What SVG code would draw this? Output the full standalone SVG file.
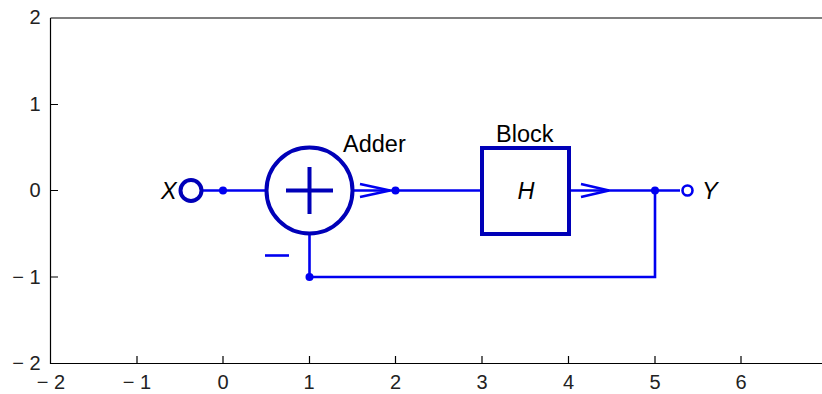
<svg xmlns="http://www.w3.org/2000/svg" width="822" height="394" viewBox="0 0 822 394">
<style>
.ax{stroke:#000;stroke-width:1.2;fill:none}
.tk{font:20px "Liberation Sans",Arial,sans-serif;fill:#222}
.e{stroke:#0000f0;stroke-width:2.6;fill:none}
.d{stroke:#0000b8;stroke-width:4;fill:#fff}
.l{font:23.5px "Liberation Sans",Arial,sans-serif;fill:#000}
.i{font-style:italic}
.j{fill:#0000f0}
</style>
<rect width="822" height="394" fill="#fff"/>
<g id="axes">
<path class="ax" d="M50.5 18V363.5H822M50.5 18H822"/>
<path class="ax" d="M50.5 104.500H58M50.5 190.500H58M50.500 277H58M137 363.500V356M223 363.500V356M309.500 363.500V356M395.500 363.500V356M482 363.500V356M568.500 363.500V356M655 363.500V356M741 363.500V356"/>
<g class="tk" text-anchor="end">
<text x="40.500" y="24">2</text><text x="40.500" y="110.500">1</text><text x="40.500" y="197">0</text><text x="40.500" y="283.500">− 1</text><text x="40.500" y="370">− 2</text>
</g>
<g class="tk" text-anchor="middle">
<text x="51" y="389">− 2</text><text x="137" y="389">− 1</text><text x="223" y="389">0</text><text x="309" y="389">1</text><text x="395.500" y="389">2</text><text x="482" y="389">3</text><text x="568.500" y="389">4</text><text x="655" y="389">5</text><text x="741" y="389">6</text>
</g>
</g>
<g id="connectors">
<path class="e" d="M202 190.500H265M353 190.500H482M569 190.500H680M309.500 235V277H655V190.500"/>
<path class="e" d="M360 184L390 190.500L360 197M581 184L609 190.500L581 197"/>
<path class="e" d="M265 255.500H289"/>
<circle class="j" cx="223" cy="190.500" r="4"/><circle class="j" cx="395.500" cy="190.500" r="4"/><circle class="j" cx="309.500" cy="277" r="4"/><circle class="j" cx="655" cy="190.500" r="4"/>
</g>
<g id="input-x"><circle class="d" cx="191" cy="190.500" r="10.500"/><text class="l i" x="161" y="198.500">X</text></g>
<g id="adder"><circle class="d" cx="309.500" cy="190.500" r="43"/><path class="d" d="M286 190.500H333M309.500 167V214"/><text class="l" x="343" y="152">Adder</text></g>
<g id="block"><rect class="d" x="482" y="148" width="87" height="86"/><text class="l i" x="517.500" y="198.500">H</text><text class="l" x="496" y="142">Block</text></g>
<g id="output-y"><circle cx="687.500" cy="190.500" r="5" fill="#fff" stroke="#0000f0" stroke-width="2.6"/><text class="l i" x="702" y="198.500">Y</text></g>
</svg>
